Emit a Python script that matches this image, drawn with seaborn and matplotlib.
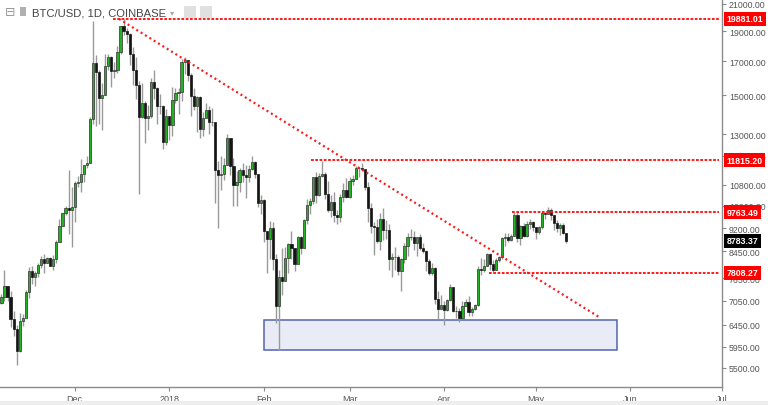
import numpy as np
import pandas as pd
import matplotlib
matplotlib.use("Agg")
import matplotlib.pyplot as plt
import matplotlib.dates as mdates
from matplotlib.patches import Rectangle
from matplotlib.transforms import Bbox
import seaborn as sns

# ---------------- data (daily candles, BTC/USD Coinbase) ----------------
start_date = "2017-11-07"
open_ = [6990, 7130, 7450, 7150, 6580, 6350, 5860, 6540, 6600, 7280, 7850, 7700, 7790, 8040, 8200, 8100, 8230, 8020, 8200, 8750, 9280, 9720, 9900, 9840,
         9950, 10860, 10910, 11250, 11620, 11690, 13750, 16870, 16350, 14850, 15050, 16730, 17300, 16400, 16480, 17600, 19350, 19040, 18800, 17500, 16500, 15600, 13860, 14600, 13800, 13900, 15780, 15400, 14400, 14430, 12640,
         13880, 13440, 14750, 15160, 15170, 16950, 17100, 16200, 14950, 14400, 14900, 13250, 13800, 14200, 13600, 13600, 11400, 11200, 11250, 11600, 12800, 11550, 10800, 10900, 11400, 11200, 11100, 11450, 11750, 11250, 10100,
         10220, 9100, 8850, 9200, 8200, 6900, 7700, 7580, 8250, 8680, 8550, 8070, 8900, 8540, 9480, 10030, 10170, 11100, 10400, 11150, 11220, 10440, 9830, 10150, 9670, 9590, 10330, 10590,
         10320, 10930, 11040, 11480, 11500, 11420, 10720, 9920, 9290, 9240, 8790, 9530, 9140, 9150, 8200, 8270, 8270, 7870, 8200, 8610, 8910, 8900, 8720, 8920, 8550, 8460, 8140, 7790, 7950, 7100, 6840,
         6940, 6820, 7060, 7420, 6790, 6780, 6620, 6900, 7020, 6770, 6830, 6940, 7920, 7890, 8010, 8360, 8060, 7890, 8170, 8280, 8860, 8920, 8800, 8940, 9650, 8870, 9280, 8930, 9340, 9410,
         9240, 9070, 9230, 9740, 9700, 9850, 9650, 9380, 9200, 9320, 9030]
high = [7210, 7880, 7450, 7300, 6790, 6450, 6740, 6700, 7320, 7970, 8000, 7850, 8100, 8300, 8370, 8280, 8270, 8330, 8800, 9500, 9730, 9980, 11400, 10690,
        10950, 11170, 11850, 11620, 12000, 13850, 19697, 17400, 16450, 15700, 17500, 17500, 17370, 16960, 17990, 19400, 19891, 19200, 18900, 17900, 17300, 15800, 15700, 14700, 14500, 16000, 16500, 15500, 15100, 14500, 14250,
        13900, 15500, 15400, 15400, 17170, 17250, 17100, 16300, 15400, 14950, 14950, 14100, 14600, 14400, 14300, 13600, 11800, 12000, 11900, 13000, 12800, 11900, 11350, 11500, 11700, 11600, 11600, 12000, 11800, 11250, 10380,
        10250, 9100, 9450, 9400, 8380, 7900, 8550, 8600, 8700, 9100, 8550, 8950, 8950, 9500, 10250, 10300, 11100, 11300, 11280, 11800, 11300, 10950, 10400, 10500, 9850, 10450, 10880, 11080,
        11100, 11200, 11550, 11520, 11700, 11420, 10900, 10100, 9420, 9500, 9730, 9900, 9480, 9350, 8400, 8600, 8350, 8250, 8700, 9050, 9170, 9100, 8920, 9000, 8700, 8500, 8200, 8100, 7970, 7300, 7200,
        7050, 7100, 7500, 7420, 6900, 6850, 7050, 7100, 7180, 6880, 6970, 8000, 8250, 8200, 8400, 8400, 8180, 8230, 8300, 8920, 9030, 9030, 8990, 9763, 9750, 9300, 9380, 9450, 9500, 9460,
        9250, 9260, 9800, 9780, 9950, 9900, 9650, 9470, 9370, 9380, 9030]
low = [6950, 7040, 7040, 6400, 6180, 5555, 5840, 6420, 6600, 7120, 7500, 7450, 7690, 7950, 7810, 8100, 8000, 7900, 8100, 8730, 9280, 9660, 9000, 8600,
       9400, 10690, 10500, 10900, 11500, 11690, 13500, 13400, 13500, 13200, 15050, 16500, 15500, 16000, 16300, 17450, 18750, 18200, 16800, 15600, 14800, 10430, 13800, 12600, 13200, 13800, 14800, 13500, 14000, 12300, 12500,
       12750, 12900, 14600, 14000, 14700, 16250, 15800, 13900, 14200, 13100, 12800, 12900, 13800, 13000, 13400, 10100, 9200, 10600, 11000, 11600, 11200, 10000, 10000, 10500, 10900, 10300, 10900, 11400, 11050, 9950, 9700,
       8750, 7800, 8200, 7900, 6500, 5880, 7200, 7580, 7800, 8200, 7850, 8070, 8370, 8540, 9350, 9700, 10050, 10100, 10350, 11100, 10250, 9750, 9600, 9400, 9350, 9400, 10150, 10300,
       10300, 10800, 11030, 11100, 11400, 10600, 9400, 9050, 8350, 8720, 8500, 8800, 8850, 7900, 7700, 7900, 7750, 7300, 8100, 8300, 8800, 8500, 8300, 8500, 8400, 7850, 7750, 7750, 6950, 6580, 6830,
       6450, 6790, 7030, 6750, 6600, 6520, 6600, 6900, 6650, 6650, 6820, 6900, 7750, 7830, 8000, 7900, 7820, 7880, 8110, 8200, 8630, 8750, 8790, 8940, 8730, 8650, 8900, 8900, 9180, 9120,
       8830, 9020, 9160, 9520, 9680, 9480, 9150, 9080, 8980, 9000, 8700]
close = [7130, 7450, 7150, 6580, 6350, 5860, 6540, 6600, 7280, 7850, 7700, 7790, 8040, 8200, 8100, 8230, 8020, 8200, 8750, 9280, 9720, 9900, 9840, 9950,
         10860, 10910, 11250, 11620, 11690, 13750, 16870, 16350, 14850, 15050, 16730, 17300, 16400, 16480, 17600, 19350, 19040, 18800, 17500, 16500, 15600, 13860, 14600, 13800, 13900, 15780, 15400, 14400, 14430, 12640, 13880,
         13440, 14750, 15160, 15170, 16950, 17100, 16200, 14950, 14400, 14900, 13250, 13800, 14200, 13600, 13600, 11400, 11200, 11250, 11600, 12800, 11550, 10800, 10900, 11400, 11200, 11100, 11450, 11750, 11250, 10100, 10220,
         9100, 8850, 9200, 8200, 6900, 7700, 7580, 8250, 8680, 8550, 8070, 8900, 8540, 9480, 10030, 10170, 11100, 10400, 11150, 11220, 10440, 9830, 10150, 9670, 9590, 10330, 10590, 10320,
         10930, 11040, 11480, 11500, 11420, 10720, 9920, 9290, 9240, 8790, 9530, 9140, 9150, 8200, 8270, 8270, 7870, 8200, 8610, 8910, 8900, 8720, 8920, 8550, 8460, 8140, 7790, 7950, 7100, 6840, 6940,
         6820, 7060, 7420, 6790, 6780, 6620, 6900, 7020, 6770, 6830, 6940, 7920, 7890, 8010, 8360, 8060, 7890, 8170, 8280, 8860, 8920, 8800, 8940, 9650, 8870, 9280, 8930, 9340, 9410, 9240,
         9070, 9230, 9740, 9700, 9850, 9650, 9380, 9200, 9320, 9030, 8783.37]

level_values = [19881.01, 11815.20, 9763.49, 7808.27]
level_labels = ["19881.01", "11815.20", "9763.49", "7808.27"]
level_starts = ["2017-12-13 12:00", "2018-02-16 06:00", "2018-04-23 06:00", "2018-04-15 16:00"]

trend_dates = ["2017-12-15 12:00", "2018-05-22 06:00"]
trend_prices = [19881.01, 6610]

zone_dates = ["2018-02-01 00:00", "2018-05-27 12:00"]
zone_prices = [5875, 6561]

last_price = 8783.37
last_label = "8783.37"

y_ticks = [5500, 5950, 6450, 7050, 7650, 8450, 9200, 10000, 10800, 12000, 13000, 15000, 17000, 19000, 21000]
x_tick_dates = ["2017-12-01", "2018-01-01", "2018-02-01", "2018-03-01", "2018-04-01", "2018-05-01", "2018-06-01", "2018-07-01"]
x_tick_labels = ["Dec", "2018", "Feb", "Mar", "Apr", "May", "Jun", "Jul"]


def dnum(strings):
    return np.array([mdates.date2num(pd.Timestamp(s)) for s in strings])


# ---------------- build frame ----------------
dates = pd.date_range(start_date, periods=len(close), freq="D")
df = pd.DataFrame({"date": dates, "open": open_, "high": high, "low": low, "close": close})
df["x"] = mdates.date2num(df["date"])
df["up"] = df["close"] >= df["open"]
df["bottom"] = df[["open", "close"]].min(axis=1)
df["height"] = (df["close"] - df["open"]).abs().clip(lower=15)

sns.set_theme(style="white")
plt.rcParams["font.family"] = ["Liberation Sans", "DejaVu Sans"]

fig = plt.figure(figsize=(7.68, 4.06), dpi=100)
ax = fig.add_axes([0, 18 / 406, 722 / 768, 388 / 406])
ax.set_yscale("log")

x0_ref = mdates.date2num(pd.Timestamp("2017-12-01"))
x_left = x0_ref - 24.47
x_right = x0_ref + 211.1
ax.set_xlim(x_left, x_right)
ax.set_ylim(5128, 21390)

# zone rectangle
zx = dnum(zone_dates)
ax.add_patch(Rectangle((zx[0], zone_prices[0]), zx[1] - zx[0], zone_prices[1] - zone_prices[0],
                       facecolor="#e9ecf6", edgecolor="#5365ad", lw=1.1, zorder=1))

# wicks
ax.vlines(df["x"], df["low"], df["high"], color="#9a9a9a", lw=1.0, zorder=2)
# bodies
upd = df[df["up"]]
dnd = df[~df["up"]]
ax.bar(upd["x"], upd["height"], bottom=upd["bottom"], width=0.72, color="#26b026",
       edgecolor="#333333", linewidth=0.5, zorder=3)
ax.bar(dnd["x"], dnd["height"], bottom=dnd["bottom"], width=0.72, color="#151515",
       edgecolor="#151515", linewidth=0.5, zorder=3)

# horizontal levels
for val, st in zip(level_values, dnum(level_starts)):
    ax.hlines(val, st, x_right, colors="#ff1a1a", lw=1.4,
              linestyles=(0, (1.4, 0.8)), zorder=4)

# trend line
tx = dnum(trend_dates)
ax.plot(tx, trend_prices, color="#ff1a1a", lw=1.6, linestyle=(0, (0.9, 1.4)), zorder=4)

# axes styling
for s in ["left", "top"]:
    ax.spines[s].set_visible(False)
for s in ["right", "bottom"]:
    ax.spines[s].set_color("#8a8a8a")
    ax.spines[s].set_linewidth(1.0)
ax.yaxis.tick_right()
ax.yaxis.set_major_locator(matplotlib.ticker.FixedLocator(y_ticks))
ax.yaxis.set_minor_locator(matplotlib.ticker.NullLocator())
ax.set_yticklabels([f"{v:.2f}" for v in y_ticks])
ax.tick_params(axis="y", which="major", right=True, length=3, width=0.8, color="#8a8a8a",
               labelsize=6.3, labelcolor="#555555", pad=2)
ax.set_xticks(dnum(x_tick_dates))
ax.set_xticklabels(x_tick_labels)
ax.tick_params(axis="x", bottom=True, length=3, width=0.8, color="#8a8a8a",
               labelsize=6.5, labelcolor="#555555", pad=2)
clip = Bbox.from_extents(0, 0, 728, 406)
for lab in ax.get_xticklabels():
    lab.set_clip_on(True)
    lab.set_clip_box(clip)
ax.grid(False)

# price labels on axis
ytr = ax.get_yaxis_transform()
for val, lab in zip(level_values, level_labels):
    ax.text(1.006, val, lab, transform=ytr, ha="left", va="center", fontsize=6.3,
            fontweight="bold", color="white", clip_on=False, zorder=10,
            bbox=dict(boxstyle="square,pad=0.3", fc="#ff0000", ec="none"))
ax.text(1.006, last_price, last_label, transform=ytr, ha="left", va="center", fontsize=6.3,
        fontweight="bold", color="white", clip_on=False, zorder=10,
        bbox=dict(boxstyle="square,pad=0.3", fc="#000000", ec="none"))

# title
fig.text(5 / 768, 1 - 13 / 406, "⊟", fontsize=9, color="#999999", va="center", ha="left",
         family=["DejaVu Sans"])
fig.patches.append(Rectangle((20 / 768, 1 - 17 / 406), 6 / 768, 9 / 406, transform=fig.transFigure,
                             facecolor="#b0b0b0", edgecolor="none"))
fig.text(32 / 768, 1 - 13 / 406, "BTC/USD, 1D, COINBASE", fontsize=8.1, color="#444444",
         va="center", ha="left")
fig.text(170 / 768, 1 - 13 / 406, "▾", fontsize=6, color="#aaaaaa", va="center", ha="left",
         family=["DejaVu Sans"])
for px in [184, 200]:
    fig.patches.append(Rectangle((px / 768, 1 - 19 / 406), 12 / 768, 12 / 406, transform=fig.transFigure,
                                 facecolor="#e0e0e0", edgecolor="none"))

# bottom strip
fig.patches.append(Rectangle((0, 0), 1, 4 / 406, transform=fig.transFigure,
                             facecolor="#eeeeee", edgecolor="none"))

fig.savefig("out.png", dpi=100)
